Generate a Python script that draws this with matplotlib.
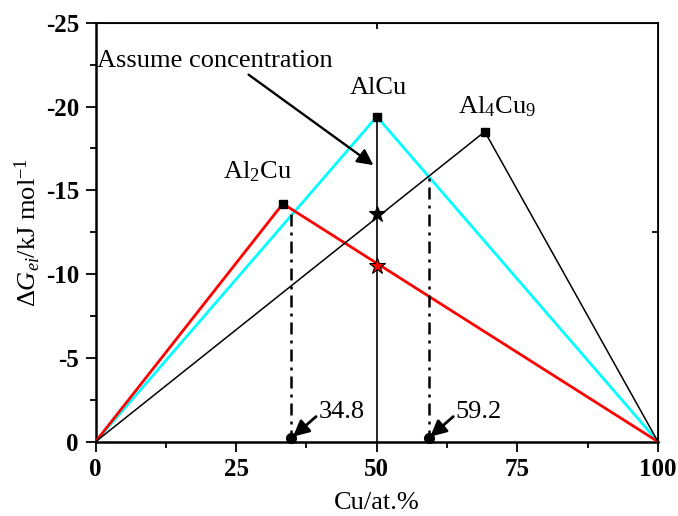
import numpy as np
import matplotlib
matplotlib.use('Agg')
import matplotlib.pyplot as plt

plt.rcParams['font.family'] = 'Liberation Serif'
plt.rcParams['mathtext.fontset'] = 'custom'
plt.rcParams['mathtext.rm'] = 'Liberation Serif'
plt.rcParams['mathtext.it'] = 'Liberation Serif:italic'
plt.rcParams['axes.unicode_minus'] = False

# peaks of the three compounds (Cu at.%, dG kJ/mol)
cu_al2cu = [0, 33.3, 100]
dg_al2cu = [0, -14.2, 0]
cu_alcu = [0, 50, 100]
dg_alcu = [0, -19.4, 0]
cu_al4cu9 = [0, 69.2, 100]
dg_al4cu9 = [0, -18.5, 0]

# assumed concentration line and the stars on it
assume_x = 50
star_dg = [-13.6, -10.5]
star_col = ['black', 'red']

# crossing points projected to the x axis
cross_x = [34.8, 59.2]
cross_dg = [-13.6, -15.9]
cross_lbl = ['34.8', '59.2']

fs = 19

fig = plt.figure(figsize=(6.78, 5.16), dpi=100)
ax = fig.add_axes([0.141, 0.144, 0.8295, 0.812])

ax.plot(cu_al2cu, dg_al2cu, color='red', lw=2, zorder=3)
ax.plot(cu_alcu, dg_alcu, color='cyan', lw=2, zorder=2)
ax.plot(cu_al4cu9, dg_al4cu9, color='black', lw=1.1, zorder=3)
for xs, ys in [(cu_al2cu, dg_al2cu), (cu_alcu, dg_alcu), (cu_al4cu9, dg_al4cu9)]:
    ax.plot(xs[1], ys[1], 's', color='black', ms=5.5, zorder=5)

ax.plot([assume_x, assume_x], [0, dg_alcu[1]], color='black', lw=1.2, zorder=4)
for d, c in zip(star_dg, star_col):
    ax.plot(assume_x, d, '*', ms=12, mfc=c, mec='black', mew=0.8, zorder=6)

for x, d, lbl in zip(cross_x, cross_dg, cross_lbl):
    ax.plot([x, x], [0, d], color='black', lw=1.8, ls=(0, (4.8, 2.4, 1.2, 2.4)), zorder=4)
    ax.plot(x, -0.2, 'o', color='black', ms=7, zorder=6, clip_on=False)
    ax.annotate('', xy=(x + 0.3, -0.3), xytext=(x + 4.4, -1.5),
                arrowprops=dict(arrowstyle='-|>', color='black', lw=2,
                                mutation_scale=24, shrinkA=0, shrinkB=0))
    ax.text(x + 4.8, -1.75, lbl, fontsize=fs, va='center', ha='left')

ax.text(0.2, -22.7, 'Assume concentration', fontsize=fs, va='center', ha='left')
ax.annotate('', xy=(49.4, -16.5), xytext=(27.2, -21.9),
            arrowprops=dict(arrowstyle='-|>', color='black', lw=1.7,
                            mutation_scale=24, shrinkA=0, shrinkB=0))

ax.text(28.8, -16.1, 'Al$_2$Cu', fontsize=fs, ha='center', va='center')
ax.text(50.3, -21.1, 'AlCu', fontsize=fs, ha='center', va='center')
ax.text(71.4, -20.0, 'Al$_4$Cu$_9$', fontsize=fs, ha='center', va='center')

ax.set_xlim(0, 100)
ax.set_ylim(0, -25)
ax.set_xticks([0, 25, 50, 75, 100])
ax.set_xticks([12.5, 37.5, 62.5, 87.5], minor=True)
ax.set_yticks([0, -5, -10, -15, -20, -25])
ax.set_yticks(np.arange(-2.5, -25, -5), minor=True)
ax.tick_params(which='both', direction='out', width=1.3, top=False, right=False)
ax.tick_params(which='major', length=7, labelsize=18, pad=5)
ax.tick_params(which='minor', length=4)
for lab in ax.get_xticklabels() + ax.get_yticklabels():
    lab.set_fontweight('bold')
for sp in ax.spines.values():
    sp.set_linewidth(1.3)
ax.spines['bottom'].set_linewidth(1.8)
ax.spines['left'].set_linewidth(1.8)

top = ax.secondary_xaxis('top')
top.set_xticks([50])
top.tick_params(direction='in', length=4, width=1.3, labeltop=False)
right = ax.secondary_yaxis('right')
right.set_yticks([-12.5])
right.tick_params(direction='in', length=4, width=1.3, labelright=False)

ax.set_xlabel('Cu/at.%', fontsize=fs, labelpad=8)
ax.set_ylabel(r'$\mathit{ΔG}_{\mathit{ei}}$/kJ mol$^{-1}$', fontsize=fs, labelpad=2)

fig.savefig('out.png', dpi=100)
